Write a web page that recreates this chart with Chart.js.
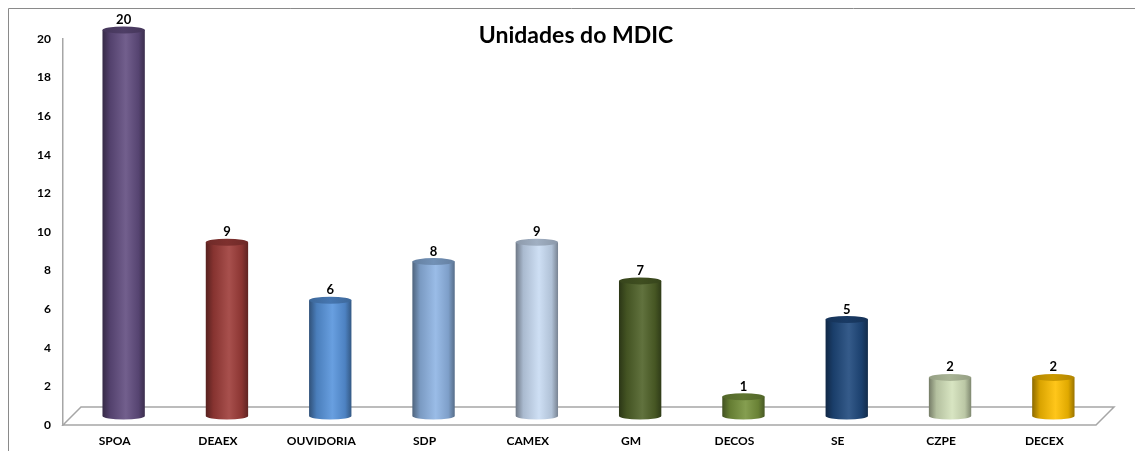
<!DOCTYPE html>
<html>
<head>
<meta charset="utf-8">
<script src="https://cdn.jsdelivr.net/npm/chart.js@4.4.1/dist/chart.umd.min.js"></script>
<style>
  html, body { margin: 0; padding: 0; background: #fff; }
  #wrap { width: 1135px; height: 451px; position: relative; }
</style>
</head>
<body>
<div id="wrap"><canvas id="chart" width="1135" height="451"></canvas></div>
<script>
// chart data
const chartTitle = 'Unidades do MDIC';
const categories = ['SPOA', 'DEAEX', 'OUVIDORIA', 'SDP', 'CAMEX', 'GM', 'DECOS', 'SE', 'CZPE', 'DECEX'];
const values = [20, 9, 6, 8, 9, 7, 1, 5, 2, 2];
const barColors = ['#624d80', '#9e3c39', '#5794dc', '#8fb5e4', '#c8dbf3', '#4f6228', '#77933c', '#1f497d', '#d4e2bb', '#ffc000'];
const yMax = 20;
const yStep = 2;

const FONT = 'Lato, "Open Sans", sans-serif';
const DEPTH = 18; // 3d floor depth in px

// mix a hex colour with black (amt < 0) or white (amt > 0)
function shade(hex, amt) {
    const n = parseInt(hex.slice(1), 16);
    let r = (n >> 16) & 255, g = (n >> 8) & 255, b = n & 255;
    const t = amt < 0 ? 0 : 255, p = Math.abs(amt);
    r = Math.round(r + (t - r) * p);
    g = Math.round(g + (t - g) * p);
    b = Math.round(b + (t - b) * p);
    return 'rgb(' + r + ',' + g + ',' + b + ')';
}

function drawCylinder(ctx, cx, w, topY, baseY, color) {
    const rx = w / 2, ry = 3.5;
    const left = cx - rx, right = cx + rx;
    const g = ctx.createLinearGradient(left, 0, right, 0);
    g.addColorStop(0, shade(color, -0.45));
    g.addColorStop(0.18, shade(color, -0.15));
    g.addColorStop(0.55, shade(color, 0.1));
    g.addColorStop(0.85, shade(color, -0.12));
    g.addColorStop(1, shade(color, -0.4));
    ctx.beginPath();
    ctx.moveTo(left, topY);
    ctx.lineTo(left, baseY);
    ctx.ellipse(cx, baseY, rx, ry, 0, Math.PI, 0, true);
    ctx.lineTo(right, topY);
    ctx.closePath();
    ctx.fillStyle = g;
    ctx.fill();

    // top cap
    const cg = ctx.createLinearGradient(left, 0, right, 0);
    cg.addColorStop(0, shade(color, -0.3));
    cg.addColorStop(0.5, shade(color, -0.2));
    cg.addColorStop(1, shade(color, -0.3));
    ctx.beginPath();
    ctx.ellipse(cx, topY, rx, ry, 0, 0, Math.PI * 2);
    ctx.fillStyle = cg;
    ctx.fill();
}

const cylinderPlugin = {
    id: 'cylinders',
    beforeDraw(chart) {
        const ctx = chart.ctx;
        const a = chart.chartArea;
        ctx.save();
        // outer frame
        ctx.strokeStyle = '#8a8a8a';
        ctx.lineWidth = 1;
        ctx.beginPath();
        ctx.moveTo(8.5, chart.height);
        ctx.lineTo(8.5, 8.5);
        ctx.lineTo(chart.width, 8.5);
        ctx.stroke();
        // floor
        ctx.strokeStyle = '#a6a6a6';
        ctx.lineWidth = 1.5;
        ctx.beginPath();
        ctx.moveTo(a.left, a.bottom);
        ctx.lineTo(a.left + DEPTH, a.bottom - DEPTH);
        ctx.lineTo(a.right + DEPTH, a.bottom - DEPTH);
        ctx.lineTo(a.right, a.bottom);
        ctx.closePath();
        ctx.stroke();
        ctx.restore();
    },
    beforeDatasetsDraw() {
        return false; // bars are drawn as cylinders below
    },
    afterDraw(chart) {
        const ctx = chart.ctx;
        const meta = chart.getDatasetMeta(0);
        const off = DEPTH / 2;
        ctx.save();
        meta.data.forEach((bar, i) => {
            const cx = bar.x + off;
            const topY = bar.y - off;
            const baseY = bar.base - off;
            drawCylinder(ctx, cx, bar.width, topY, baseY, barColors[i]);
            ctx.fillStyle = '#000';
            ctx.font = 'bold 13px ' + FONT;
            ctx.textAlign = 'center';
            ctx.textBaseline = 'alphabetic';
            ctx.fillText(String(values[i]), cx, topY - 6);
        });
        ctx.font = 'bold 23px ' + FONT;
        ctx.textAlign = 'center';
        ctx.textBaseline = 'middle';
        ctx.fillStyle = '#000';
        ctx.fillText(chartTitle, 576, 36);
        ctx.restore();
    }
};

new Chart(document.getElementById('chart'), {
    type: 'bar',
    data: {
        labels: categories,
        datasets: [{
            label: chartTitle,
            data: values,
            backgroundColor: barColors,
            barPercentage: 0.41,
            categoryPercentage: 1
        }]
    },
    options: {
        responsive: false,
        animation: false,
        layout: { padding: { left: 0, top: 39, right: 39, bottom: 0 } },
        plugins: {
            legend: { display: false },
            title: { display: false },
            tooltip: { enabled: false }
        },
        scales: {
            x: {
                grid: { display: false, drawTicks: false },
                border: { display: false },
                ticks: {
                    color: '#000',
                    font: { family: FONT, size: 12, weight: 'bold' },
                    padding: 9,
                    maxRotation: 0,
                    autoSkip: false
                },
                afterFit(scale) { scale.height = 26; }
            },
            y: {
                min: 0,
                max: yMax,
                grid: { display: false, drawTicks: false },
                border: { display: true, color: '#a6a6a6', width: 1.5 },
                ticks: {
                    stepSize: yStep,
                    color: '#000',
                    font: { family: FONT, size: 12, weight: 'bold' },
                    padding: 12
                },
                afterFit(scale) { scale.width = 63; }
            }
        }
    },
    plugins: [cylinderPlugin]
});
</script>
</body>
</html>
